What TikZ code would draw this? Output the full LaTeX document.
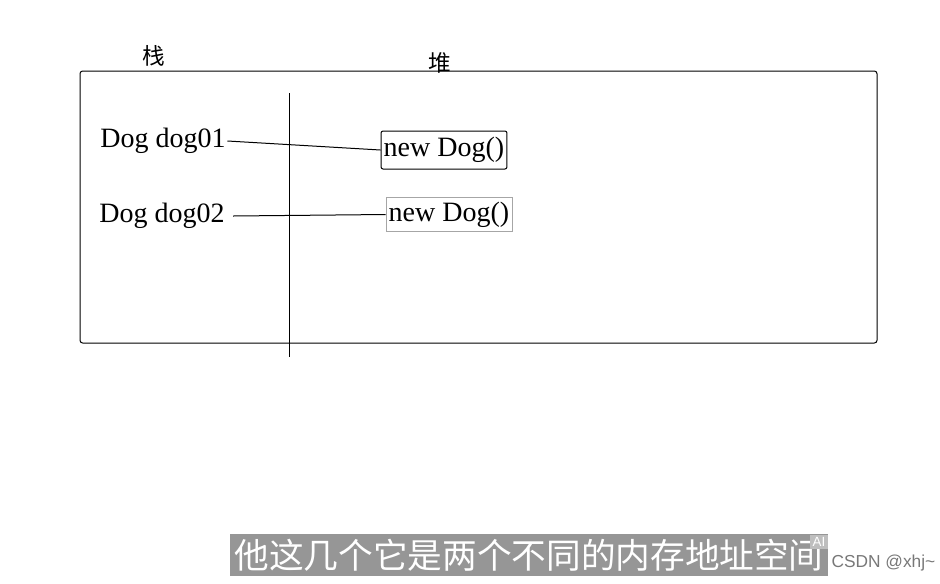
\documentclass[tikz,border=0pt]{standalone}
\usepackage{fontspec}
\setmainfont{Liberation Serif}
\newfontfamily\cjk{Noto Sans CJK SC}
\newfontfamily\wmfont{Liberation Sans}
\tikzset{every picture/.style={line width=0.75pt}}
\tikzset{
objbox/.style={draw, rounded corners=1.5pt, inner sep=2pt, minimum height=28.5pt, font=\fontsize{21}{21}\selectfont},
reftext/.style={inner sep=1pt, font=\fontsize{21}{21}\selectfont},
arealabel/.style={inner sep=0pt, font=\cjk\fontsize{17}{17}\selectfont}}

\begin{document}
\begin{tikzpicture}[x=0.75pt,y=0.75pt,yscale=-1,xscale=1]
\useasboundingbox (0,0) rectangle (940,583);

%Shape: Rectangle (memory area)
\draw [rounded corners=2pt] (80,71) rectangle (877,343);
%Straight Lines (stack / heap border)
\draw (289,93) -- (289,357);

% Text Node
\node [arealabel] (stack) at (154,56) {栈};
% Text Node
\node [arealabel] (heap) at (440,63) {堆};

% Text Node
\node [reftext] (dog01) at (163,141) {Dog dog01};
% Text Node
\node [reftext] (dog02) at (162,216) {Dog dog02};

% Object boxes
\node [objbox] (obj01) at (444,150) {new Dog()};
\node [objbox, draw=gray!70, line width=0.6pt, rounded corners=0pt, minimum height=25pt] (obj02) at (449,214.5) {new Dog()};

%Straight Lines
\draw (dog01.east) -- (obj01.west);
\draw ([xshift=5pt]dog02.east) -- (obj02.west);

% Subtitle
\node [fill={rgb, 255:red, 150; green, 150; blue, 150 }, text=white, inner xsep=3pt, inner ysep=4pt, font=\cjk\fontsize{26}{26}\selectfont] (caption) at (529,555) {他这几个它是两个不同的内存地址空间};
\node [fill={rgb, 255:red, 190; green, 190; blue, 190 }, text=white, inner sep=2pt, font=\wmfont\fontsize{10}{10}\selectfont] (ailabel) at (819,542) {AI};
\node [anchor=west, text={rgb, 255:red, 120; green, 120; blue, 120 }, inner sep=0pt, font=\wmfont\fontsize{13}{13}\selectfont] (mark) at (831,563) {CSDN @xhj\textasciitilde};

\end{tikzpicture}
\end{document}
